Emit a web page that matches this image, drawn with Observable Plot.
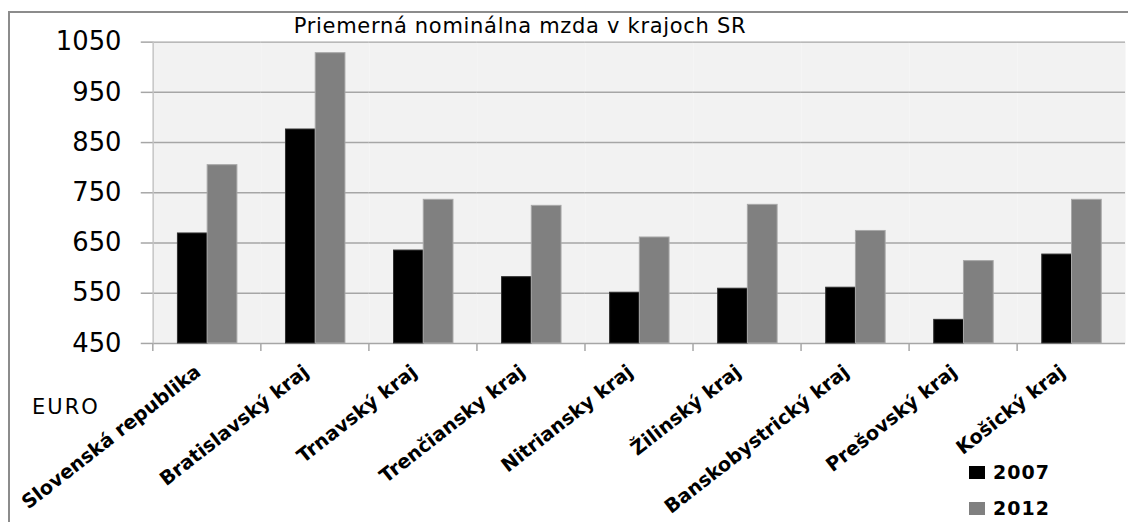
<!DOCTYPE html>
<html>
<head>
<meta charset="utf-8">
<script src="https://cdn.jsdelivr.net/npm/d3@7"></script>
<script src="https://cdn.jsdelivr.net/npm/@observablehq/plot@0.6"></script>
<style>
  html, body { margin: 0; padding: 0; background: #fff; overflow: hidden; }
  #wrap { position: relative; width: 1128px; height: 522px; overflow: hidden; background: #fff; font-family: "DejaVu Sans", sans-serif; }
  #border { position: absolute; left: 8px; top: 11px; width: 1200px; height: 600px; border-left: 2px solid #8c8c8c; border-top: 2px solid #8c8c8c; }
  #title { position: absolute; left: 0; width: 1040px; top: 14px; text-align: center; font-size: 21px; color: #000; letter-spacing: 0.7px; }
  #chart { position: absolute; left: 0; top: 0; }
  #unit { position: absolute; left: 32px; top: 395px; font-size: 21px; letter-spacing: 2px; color: #000; }
  #legend { position: absolute; left: 969px; top: 454px; }
  .item { display: flex; align-items: center; height: 36px; line-height: 20px; font-weight: bold; font-size: 19px; letter-spacing: 1px; }
  .sw { width: 16px; height: 13px; margin-right: 8px; }
</style>
</head>
<body>
<div id="wrap">
  <div id="border"></div>
  <div id="chart"></div>
  <div id="title"></div>
  <div id="unit"></div>
  <div id="legend"></div>
</div>
<script>
const chartTitle = "Priemerná nominálna mzda v krajoch SR";
const unitLabel = "EURO";
const regions = ["Slovenská republika", "Bratislavský kraj", "Trnavský kraj", "Trenčiansky kraj", "Nitriansky kraj", "Žilinský kraj", "Banskobystrický kraj", "Prešovský kraj", "Košický kraj"];
const years = ["2007", "2012"];
const wage2007 = [669, 876, 635, 582, 551, 559, 561, 497, 627];
const wage2012 = [805, 1028, 736, 724, 661, 726, 674, 614, 736];
const yTicks = [450, 550, 650, 750, 850, 950, 1050];
const colors = ["#000000", "#808080"];

const series = {"2007": wage2007, "2012": wage2012};
const data = regions.flatMap((r, i) => years.map(y => ({region: r, year: y, value: series[y][i]})));

const W = 1138, H = 522, mL = 151, mT = 42, mB = 176;
const step = (W - mL) / regions.length;

const chart = Plot.plot({
  width: W, height: H,
  marginLeft: mL, marginRight: 0, marginTop: mT, marginBottom: mB,
  style: {fontFamily: "DejaVu Sans", background: "transparent", color: "#000", overflow: "visible"},
  fx: {domain: regions, padding: 0, label: null},
  x: {domain: years, paddingInner: 0, paddingOuter: 0.77, axis: null},
  y: {domain: [yTicks[0], yTicks[yTicks.length - 1]], label: null},
  color: {domain: years, range: colors},
  marks: [
    Plot.frame({fill: "#f2f2f2", stroke: null}),
    Plot.gridY(yTicks, {stroke: "#a6a6a6", strokeOpacity: 1, strokeWidth: 1.5}),
    Plot.frame({anchor: "left", stroke: "#c4c4c4", strokeWidth: 1.5, facetAnchor: "left"}),
    Plot.barY(data, {fx: "region", x: "year", y1: () => yTicks[0], y2: "value", fill: "year",
      stroke: d => d.year === years[0] ? "#303030" : "#a8a8a8", strokeWidth: 1, inset: 0}),
    Plot.axisY({ticks: yTicks, tickFormat: d => String(d), tickSize: 12, tickPadding: 20, fontSize: 26, stroke: "#a6a6a6", strokeWidth: 1.5, fill: "#000", letterSpacing: 3, label: null}),
    Plot.axisFx({anchor: "bottom", tickSize: 8, tickPadding: 0, dx: -step / 2, tickFormat: () => "", stroke: "#a6a6a6", strokeWidth: 1.5, label: null}),
    Plot.axisFx({anchor: "bottom", tickSize: 0, tickRotate: -38, tickPadding: 26, dx: -9, fontSize: 19.5, fontWeight: "bold", fill: "#000", label: null})
  ]
});
document.getElementById("chart").appendChild(chart);
document.getElementById("title").textContent = chartTitle;
document.getElementById("unit").textContent = unitLabel;
const legend = document.getElementById("legend");
years.forEach((y, i) => {
  const item = document.createElement("div");
  item.className = "item";
  const sw = document.createElement("span");
  sw.className = "sw";
  sw.style.background = colors[i];
  item.appendChild(sw);
  item.appendChild(document.createTextNode(y));
  legend.appendChild(item);
});
</script>
</body>
</html>
